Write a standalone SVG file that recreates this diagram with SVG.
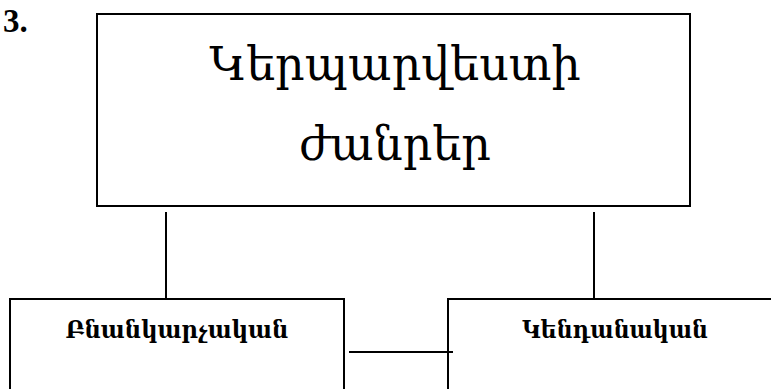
<svg xmlns="http://www.w3.org/2000/svg" width="771" height="389" viewBox="0 0 771 389">
<style>
.box{fill:#fff;stroke:#000;stroke-width:2}
.ln{stroke:#000;stroke-width:2;fill:none}
.t{font-family:"DejaVu Serif","Noto Sans",serif;fill:#000;text-anchor:middle}
.big{font-size:46px}
.lab{font-size:25px;font-weight:bold}
</style>
<rect width="771" height="389" fill="#fff"/>
<text x="3" y="32" style="font-family:'Liberation Serif',serif;font-weight:bold;font-size:33px" fill="#000">3.</text>
<g id="node-top">
<rect class="box" x="97" y="14" width="593" height="192"/>
<text class="t big" x="395" y="80">Կերպարվեստի</text>
<text class="t big" x="395" y="160">ժանրեր</text>
</g>
<g id="node-left">
<rect class="box" x="10" y="299" width="334" height="110"/>
<text class="t lab" x="177" y="338" textLength="223" lengthAdjust="spacingAndGlyphs">Բնանկարչական</text>
</g>
<g id="node-right">
<rect class="box" x="448" y="299" width="340" height="110"/>
<text class="t lab" x="615" y="338" textLength="186" lengthAdjust="spacingAndGlyphs">Կենդանական</text>
</g>
<g id="connectors">
<line class="ln" x1="166" y1="212" x2="166" y2="299"/>
<line class="ln" x1="594" y1="212" x2="594" y2="299"/>
<line class="ln" x1="349" y1="352" x2="453" y2="352"/>
</g>
</svg>
